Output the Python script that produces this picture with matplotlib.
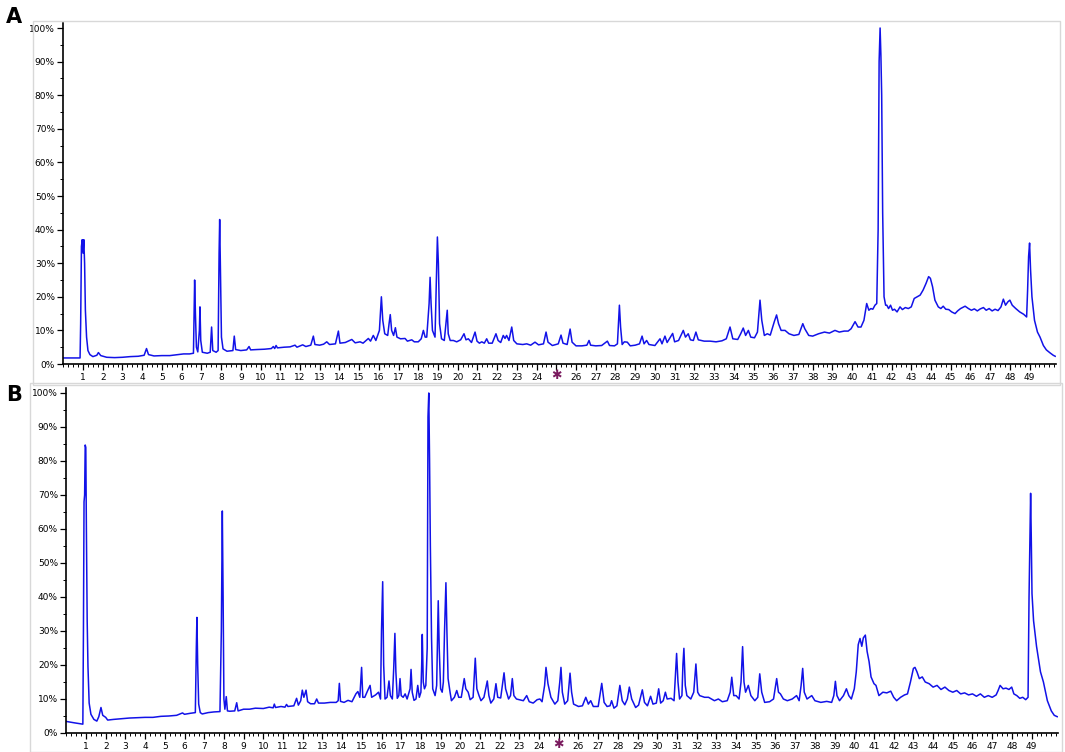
import matplotlib
matplotlib.use("Agg")
import matplotlib.pyplot as plt
from matplotlib.patches import Rectangle
from matplotlib.ticker import MultipleLocator

# retention time (min), relative abundance (%)
trace_a = [
    (0.0, 1.8), (0.85, 1.8), (0.88, 12), (0.92, 35), (0.96, 37), (1.0, 33), (1.04, 37),
    (1.08, 30), (1.12, 16), (1.18, 8), (1.25, 4), (1.35, 2.8), (1.5, 2.2), (1.7, 2.6),
    (1.78, 3.4), (1.9, 2.5), (2.2, 2.0), (2.6, 1.9), (3.0, 2.0), (3.4, 2.2), (3.8, 2.3),
    (4.1, 2.6), (4.22, 4.6), (4.32, 2.8), (4.6, 2.4), (5.0, 2.5), (5.4, 2.5), (5.8, 2.8),
    (6.1, 3.0), (6.4, 3.0), (6.6, 3.2), (6.66, 25), (6.7, 15), (6.75, 5), (6.82, 3.6),
    (6.9, 10), (6.93, 17), (6.97, 7), (7.05, 3.5), (7.3, 3.2), (7.45, 3.5), (7.52, 11),
    (7.58, 4), (7.75, 3.5), (7.85, 4), (7.9, 33), (7.93, 43), (7.97, 28), (8.02, 8),
    (8.1, 4.5), (8.3, 3.8), (8.6, 4.0), (8.67, 8.3), (8.74, 4.3), (9.0, 4.0), (9.3, 4.2),
    (9.42, 5.2), (9.5, 4.2), (9.8, 4.3), (10.2, 4.4), (10.55, 4.6), (10.65, 5.2), (10.72, 4.6),
    (10.79, 5.5), (10.86, 4.8), (11.2, 5.0), (11.5, 5.1), (11.75, 5.6), (11.85, 5.0),
    (12.14, 5.7), (12.3, 5.2), (12.55, 5.6), (12.68, 8.3), (12.76, 5.8), (13.0, 5.6),
    (13.2, 5.9), (13.36, 6.6), (13.5, 5.8), (13.8, 6.0), (13.95, 9.8), (14.03, 6.2),
    (14.3, 6.4), (14.63, 7.3), (14.8, 6.3), (15.05, 6.6), (15.2, 6.2), (15.47, 7.6),
    (15.58, 6.8), (15.72, 8.5), (15.85, 7.0), (16.03, 10), (16.13, 20), (16.2, 13),
    (16.3, 9), (16.45, 8.5), (16.52, 12), (16.58, 14.7), (16.65, 10), (16.75, 8.5),
    (16.84, 10.8), (16.92, 8.0), (17.1, 7.5), (17.33, 7.6), (17.45, 6.8), (17.67, 7.2),
    (17.8, 6.6), (18.0, 6.6), (18.15, 7.5), (18.26, 10), (18.35, 8.0), (18.43, 8.0),
    (18.55, 18), (18.6, 25.8), (18.65, 18), (18.72, 10), (18.85, 8), (18.93, 28),
    (18.97, 37.8), (19.02, 30), (19.08, 12), (19.18, 7.5), (19.32, 7.0), (19.42, 13),
    (19.47, 16), (19.52, 9), (19.62, 7.0), (19.78, 7.0), (19.95, 6.6), (20.15, 7.2),
    (20.32, 9.0), (20.42, 7.2), (20.54, 7.5), (20.7, 6.4), (20.88, 9.5), (20.98, 6.8),
    (21.1, 6.2), (21.22, 6.6), (21.35, 6.2), (21.47, 7.5), (21.57, 6.2), (21.75, 6.2),
    (21.94, 9.0), (22.05, 7.0), (22.18, 6.4), (22.31, 8.5), (22.4, 7.6), (22.48, 8.5),
    (22.6, 7.0), (22.74, 11), (22.84, 7.0), (23.0, 6.0), (23.3, 5.8), (23.5, 6.0),
    (23.7, 5.6), (23.92, 6.5), (24.1, 5.7), (24.35, 6.0), (24.48, 9.5), (24.58, 6.5),
    (24.8, 5.5), (25.1, 6.0), (25.24, 8.6), (25.34, 6.2), (25.55, 5.8), (25.7, 10.4),
    (25.8, 6.5), (26.0, 5.4), (26.3, 5.4), (26.55, 5.6), (26.66, 7.0), (26.74, 5.6),
    (27.0, 5.4), (27.3, 5.5), (27.59, 6.8), (27.7, 5.5), (27.95, 5.4), (28.1, 6.0),
    (28.2, 17.5), (28.26, 11), (28.34, 5.8), (28.45, 6.6), (28.6, 6.5), (28.75, 5.4),
    (29.0, 5.6), (29.22, 6.0), (29.35, 8.3), (29.45, 6.0), (29.58, 7.0), (29.7, 5.8),
    (30.0, 5.5), (30.26, 7.5), (30.36, 6.0), (30.51, 8.3), (30.62, 6.4), (30.9, 9.1),
    (31.0, 6.6), (31.2, 7.0), (31.44, 10), (31.55, 8.0), (31.69, 9.0), (31.8, 7.2),
    (31.95, 7.0), (32.08, 9.5), (32.2, 7.2), (32.5, 6.8), (32.8, 6.8), (33.1, 6.6),
    (33.4, 6.9), (33.62, 7.5), (33.81, 11), (33.95, 7.5), (34.2, 7.3), (34.35, 9.0),
    (34.48, 10.7), (34.6, 8.5), (34.74, 10.0), (34.86, 8.0), (35.05, 7.8), (35.2, 9.5),
    (35.33, 19), (35.42, 13), (35.55, 8.5), (35.7, 9.0), (35.85, 8.6), (36.05, 12.5),
    (36.17, 14.6), (36.27, 12), (36.4, 10), (36.6, 10), (36.8, 9.0), (37.05, 8.5),
    (37.3, 8.8), (37.5, 12), (37.6, 10.5), (37.8, 8.5), (38.0, 8.3), (38.3, 9.0),
    (38.6, 9.5), (38.85, 9.2), (39.13, 10), (39.35, 9.5), (39.6, 9.8), (39.8, 9.8),
    (39.95, 10.5), (40.15, 12.6), (40.3, 11), (40.45, 11), (40.6, 13), (40.74, 18),
    (40.85, 16), (40.95, 16.5), (41.05, 16.3), (41.16, 17.5), (41.25, 18), (41.32, 40),
    (41.37, 90), (41.42, 100), (41.46, 92), (41.5, 80), (41.55, 45), (41.62, 20),
    (41.7, 17.5), (41.76, 17.5), (41.85, 16.5), (41.95, 17.5), (42.05, 16.0), (42.15, 16.3),
    (42.28, 15.5), (42.43, 17), (42.55, 16.2), (42.7, 16.8), (42.85, 16.5), (43.0, 17),
    (43.15, 19.5), (43.3, 20), (43.45, 20.5), (43.6, 22), (43.75, 24), (43.88, 26),
    (43.97, 25.5), (44.08, 23), (44.2, 19), (44.37, 17), (44.5, 16.5), (44.62, 17.2),
    (44.75, 16.3), (44.9, 16.2), (45.05, 15.5), (45.22, 15.0), (45.35, 15.8), (45.5, 16.5),
    (45.73, 17.2), (45.9, 16.5), (46.05, 16.0), (46.2, 16.4), (46.35, 15.8), (46.5, 16.4),
    (46.66, 16.8), (46.8, 16.0), (46.95, 16.5), (47.1, 15.8), (47.25, 16.3), (47.4, 15.9),
    (47.55, 17), (47.67, 19.3), (47.78, 17.5), (47.9, 18.5), (48.0, 19), (48.12, 17.5),
    (48.3, 16.5), (48.5, 15.5), (48.7, 14.8), (48.85, 14), (48.9, 22), (48.95, 32),
    (49.0, 36), (49.05, 28), (49.12, 20), (49.25, 13), (49.4, 9.5), (49.53, 8),
    (49.7, 5.5), (49.85, 4.2), (50.04, 3.3), (50.2, 2.6), (50.3, 2.3),
]

trace_b = [
    (0.0, 3.4), (0.4, 3.0), (0.84, 2.6), (0.87, 30), (0.9, 68), (0.93, 70), (0.96, 84.7),
    (0.99, 84), (1.02, 60), (1.06, 33), (1.1, 19.5), (1.16, 8.8), (1.25, 5.5), (1.4, 4.0),
    (1.55, 3.5), (1.65, 4.8), (1.76, 7.5), (1.85, 5.2), (2.0, 4.6), (2.1, 3.8), (2.4, 4.0),
    (2.8, 4.2), (3.2, 4.4), (3.6, 4.5), (4.0, 4.6), (4.4, 4.6), (4.8, 4.9), (5.2, 5.0),
    (5.6, 5.2), (5.9, 5.9), (6.0, 5.5), (6.3, 5.8), (6.55, 6.0), (6.6, 25), (6.63, 34),
    (6.67, 20), (6.72, 8.5), (6.8, 6.0), (6.9, 5.6), (7.2, 6.0), (7.5, 6.2), (7.8, 6.3),
    (7.87, 30), (7.92, 65.3), (7.96, 40), (8.0, 10), (8.05, 7), (8.12, 10.7), (8.18, 6.5),
    (8.3, 6.4), (8.55, 6.5), (8.65, 8.9), (8.72, 6.5), (9.0, 7.0), (9.3, 7.0), (9.6, 7.3),
    (10.0, 7.2), (10.3, 7.6), (10.5, 7.4), (10.56, 8.5), (10.62, 7.5), (10.9, 7.8),
    (11.1, 7.6), (11.18, 8.4), (11.25, 7.8), (11.55, 8.0), (11.69, 10.2), (11.78, 8.2),
    (11.9, 9.5), (11.98, 12.6), (12.06, 10.5), (12.17, 12.6), (12.25, 9.2), (12.4, 8.6),
    (12.6, 8.6), (12.71, 10), (12.8, 8.8), (13.1, 8.8), (13.4, 9.0), (13.7, 9.0),
    (13.8, 9.5), (13.86, 14.6), (13.92, 9.3), (14.1, 9.0), (14.3, 9.6), (14.5, 9.2),
    (14.7, 11.5), (14.8, 12.2), (14.9, 10.5), (14.99, 19.3), (15.05, 10.5), (15.15, 10.5),
    (15.3, 12.5), (15.42, 14), (15.5, 10.5), (15.7, 11.2), (15.85, 12), (15.95, 10),
    (16.0, 30), (16.06, 44.5), (16.11, 20), (16.18, 10), (16.28, 10.5), (16.38, 15.3),
    (16.45, 11), (16.55, 10), (16.62, 19), (16.68, 29.3), (16.73, 18), (16.8, 10.2),
    (16.88, 11), (16.94, 16), (17.0, 11), (17.1, 10.5), (17.2, 11.5), (17.3, 10),
    (17.45, 13), (17.5, 18.7), (17.56, 12), (17.65, 9.6), (17.75, 10), (17.84, 14),
    (17.92, 10.5), (18.0, 12), (18.04, 20), (18.07, 29), (18.12, 15), (18.18, 13),
    (18.25, 14), (18.32, 25), (18.36, 93), (18.4, 100), (18.44, 80), (18.48, 55),
    (18.54, 28), (18.6, 13), (18.72, 11), (18.8, 14), (18.85, 30), (18.88, 38.9),
    (18.93, 25), (19.0, 13), (19.08, 12), (19.14, 15), (19.2, 30), (19.27, 44.2),
    (19.32, 30), (19.38, 16), (19.48, 12), (19.55, 9.5), (19.7, 10.5), (19.82, 12.5),
    (19.92, 10.5), (20.05, 10.5), (20.2, 16), (20.28, 13), (20.4, 12), (20.5, 9.8),
    (20.65, 10.5), (20.76, 22), (20.84, 13), (20.95, 11), (21.05, 9.5), (21.2, 10.5),
    (21.37, 15.3), (21.45, 11), (21.55, 8.8), (21.7, 10), (21.81, 14.5), (21.9, 10.5),
    (22.05, 10.3), (22.22, 17.7), (22.3, 13), (22.45, 10), (22.55, 11), (22.64, 16),
    (22.72, 11), (22.85, 10), (23.0, 9.8), (23.2, 9.5), (23.37, 11), (23.5, 9.2),
    (23.7, 8.8), (23.9, 9.8), (24.04, 10), (24.15, 9.2), (24.28, 14), (24.35, 19.3),
    (24.45, 14.5), (24.6, 10.5), (24.8, 8.5), (24.95, 9.5), (25.05, 15), (25.11, 19.3),
    (25.18, 12), (25.3, 8.5), (25.45, 9.5), (25.57, 17.6), (25.65, 12), (25.75, 8.5),
    (26.0, 7.8), (26.2, 8), (26.37, 10.5), (26.5, 8.5), (26.62, 9.5), (26.75, 7.8),
    (27.0, 7.8), (27.18, 14.6), (27.3, 9), (27.45, 7.8), (27.6, 8), (27.68, 9.5),
    (27.8, 7.3), (27.95, 8), (28.1, 14), (28.22, 9.5), (28.35, 8.3), (28.48, 10),
    (28.58, 13.5), (28.7, 10), (28.9, 7.5), (29.05, 8.2), (29.24, 12.7), (29.35, 9),
    (29.5, 8), (29.66, 10.8), (29.78, 8.5), (29.95, 8.8), (30.07, 13), (30.17, 8.8),
    (30.3, 9.5), (30.41, 12), (30.5, 10), (30.7, 10.2), (30.85, 9.5), (30.93, 18),
    (30.98, 23.4), (31.05, 15), (31.13, 10), (31.25, 11), (31.3, 20), (31.35, 24.9),
    (31.42, 14), (31.5, 11), (31.7, 10), (31.85, 12), (31.96, 20.3), (32.05, 12),
    (32.15, 11), (32.4, 10.5), (32.6, 10.5), (32.9, 9.5), (33.1, 10), (33.3, 9.2),
    (33.55, 9.5), (33.7, 12), (33.78, 16.4), (33.88, 11), (34.0, 11), (34.15, 10),
    (34.25, 15), (34.33, 25.4), (34.4, 15), (34.48, 12), (34.62, 14), (34.75, 11),
    (34.95, 9.5), (35.1, 10.5), (35.2, 17.4), (35.3, 12), (35.45, 9), (35.7, 9.2),
    (35.9, 10), (36.06, 16), (36.15, 12), (36.25, 11.5), (36.4, 10), (36.6, 9.5),
    (36.85, 10), (37.07, 11), (37.2, 9.5), (37.3, 14), (37.38, 19), (37.46, 12),
    (37.6, 10), (37.84, 11), (38.0, 9.5), (38.3, 9), (38.6, 9.3), (38.85, 9),
    (38.96, 11), (39.04, 15.2), (39.12, 11), (39.25, 9.5), (39.45, 11), (39.6, 13),
    (39.72, 11), (39.85, 10), (40.0, 13), (40.1, 18), (40.2, 26), (40.29, 27.8),
    (40.38, 25.5), (40.46, 28), (40.56, 28.8), (40.65, 24), (40.75, 21), (40.85, 16.5),
    (41.0, 14.5), (41.1, 14), (41.25, 11), (41.45, 12), (41.65, 11.8), (41.85, 12.3),
    (42.0, 10.5), (42.15, 9.5), (42.35, 10.5), (42.55, 11.2), (42.7, 11.5), (42.85, 15),
    (43.0, 19), (43.08, 19.3), (43.18, 18), (43.3, 16), (43.45, 16.5), (43.6, 15),
    (43.8, 14.5), (44.0, 13.5), (44.2, 14), (44.4, 12.8), (44.6, 13.5), (44.8, 12.5),
    (45.0, 12), (45.2, 12.5), (45.4, 11.5), (45.6, 11.8), (45.8, 11.2), (46.0, 11.5),
    (46.2, 10.8), (46.4, 11.5), (46.6, 10.5), (46.8, 11), (47.0, 10.5), (47.2, 11.2),
    (47.3, 12.5), (47.4, 14), (47.55, 13), (47.7, 13.2), (47.85, 12.8), (47.99, 13.5),
    (48.1, 11.5), (48.25, 11), (48.4, 10.2), (48.55, 10.5), (48.7, 9.8), (48.82, 10.5),
    (48.87, 40), (48.92, 60), (48.95, 70.5), (48.98, 59), (49.02, 41), (49.1, 33),
    (49.25, 25.5), (49.45, 18), (49.6, 15), (49.8, 9.5), (50.0, 6.5), (50.15, 5.2),
    (50.3, 4.8),
]

x_ticks = list(range(1, 50))
x_labels = [str(t) if t != 25 else "" for t in x_ticks]
y_ticks = list(range(0, 101, 10))
y_labels = [f"{v}%" for v in y_ticks]
panel_letters = ["A", "B"]

LINE = "#1212e8"
W, H = 1065, 752


def px_box(left, top, right, bottom):
    # pixel box of the reference -> figure fraction
    return [left / W, 1 - bottom / H, (right - left) / W, (bottom - top) / H]


def draw_panel(ax, trace):
    t, y = zip(*trace)
    ax.plot(t, y, color=LINE, lw=1.1)
    ax.set_xlim(0, 50.35)
    ax.set_ylim(0, 101.5)
    for s in ("top", "right"):
        ax.spines[s].set_visible(False)
    ax.spines["left"].set_linewidth(1.2)
    ax.spines["bottom"].set_linewidth(1.2)
    ax.set_xticks(x_ticks)
    ax.set_xticklabels(x_labels)
    ax.xaxis.set_minor_locator(MultipleLocator(0.25))
    ax.set_yticks(y_ticks)
    ax.set_yticklabels(y_labels)
    ax.yaxis.set_minor_locator(MultipleLocator(5))
    ax.tick_params(axis="both", which="major", length=4, width=0.9, labelsize=6.5, pad=2)
    ax.tick_params(axis="x", which="major", pad=2.5)
    ax.tick_params(axis="both", which="minor", length=2, width=0.7)
    # marker drawn in place of the "25" label
    ax.annotate("\u2731", xy=(25, 0), xycoords=("data", "axes fraction"),
                xytext=(0, -8.5), textcoords="offset points", ha="center", va="center",
                color="#7a1a5e", fontsize=9, fontweight="bold")


fig = plt.figure(figsize=(W / 100, H / 100), dpi=100)

# light grey window frames of the screenshot
fig.patches.append(Rectangle((33 / W, 1 - 385 / H), 1027 / W, 364 / H, transform=fig.transFigure,
                             fill=False, edgecolor="#d8d8d8", lw=1.0))
fig.patches.append(Rectangle((30 / W, 0.0), 1032 / W, 1 - 383 / H, transform=fig.transFigure,
                             fill=False, edgecolor="#d8d8d8", lw=1.0))

# x: 1 min = 19.72 px, t=1 at x=83 (A) / 86 (B); y: 0% at 364 / 733
ax_a = fig.add_axes(px_box(63.3, 364 - 101.5 * 3.36, 63.3 + 50.35 * 19.72, 364))
ax_b = fig.add_axes(px_box(66.3, 733 - 101.5 * 3.4, 66.3 + 50.35 * 19.7, 733))

draw_panel(ax_a, trace_a)
draw_panel(ax_b, trace_b)

fig.text(14 / W, 1 - 17 / H, panel_letters[0], fontsize=15, fontweight="bold", ha="center", va="center")
fig.text(14 / W, 1 - 395 / H, panel_letters[1], fontsize=15, fontweight="bold", ha="center", va="center")

fig.savefig("out.png", dpi=100)
